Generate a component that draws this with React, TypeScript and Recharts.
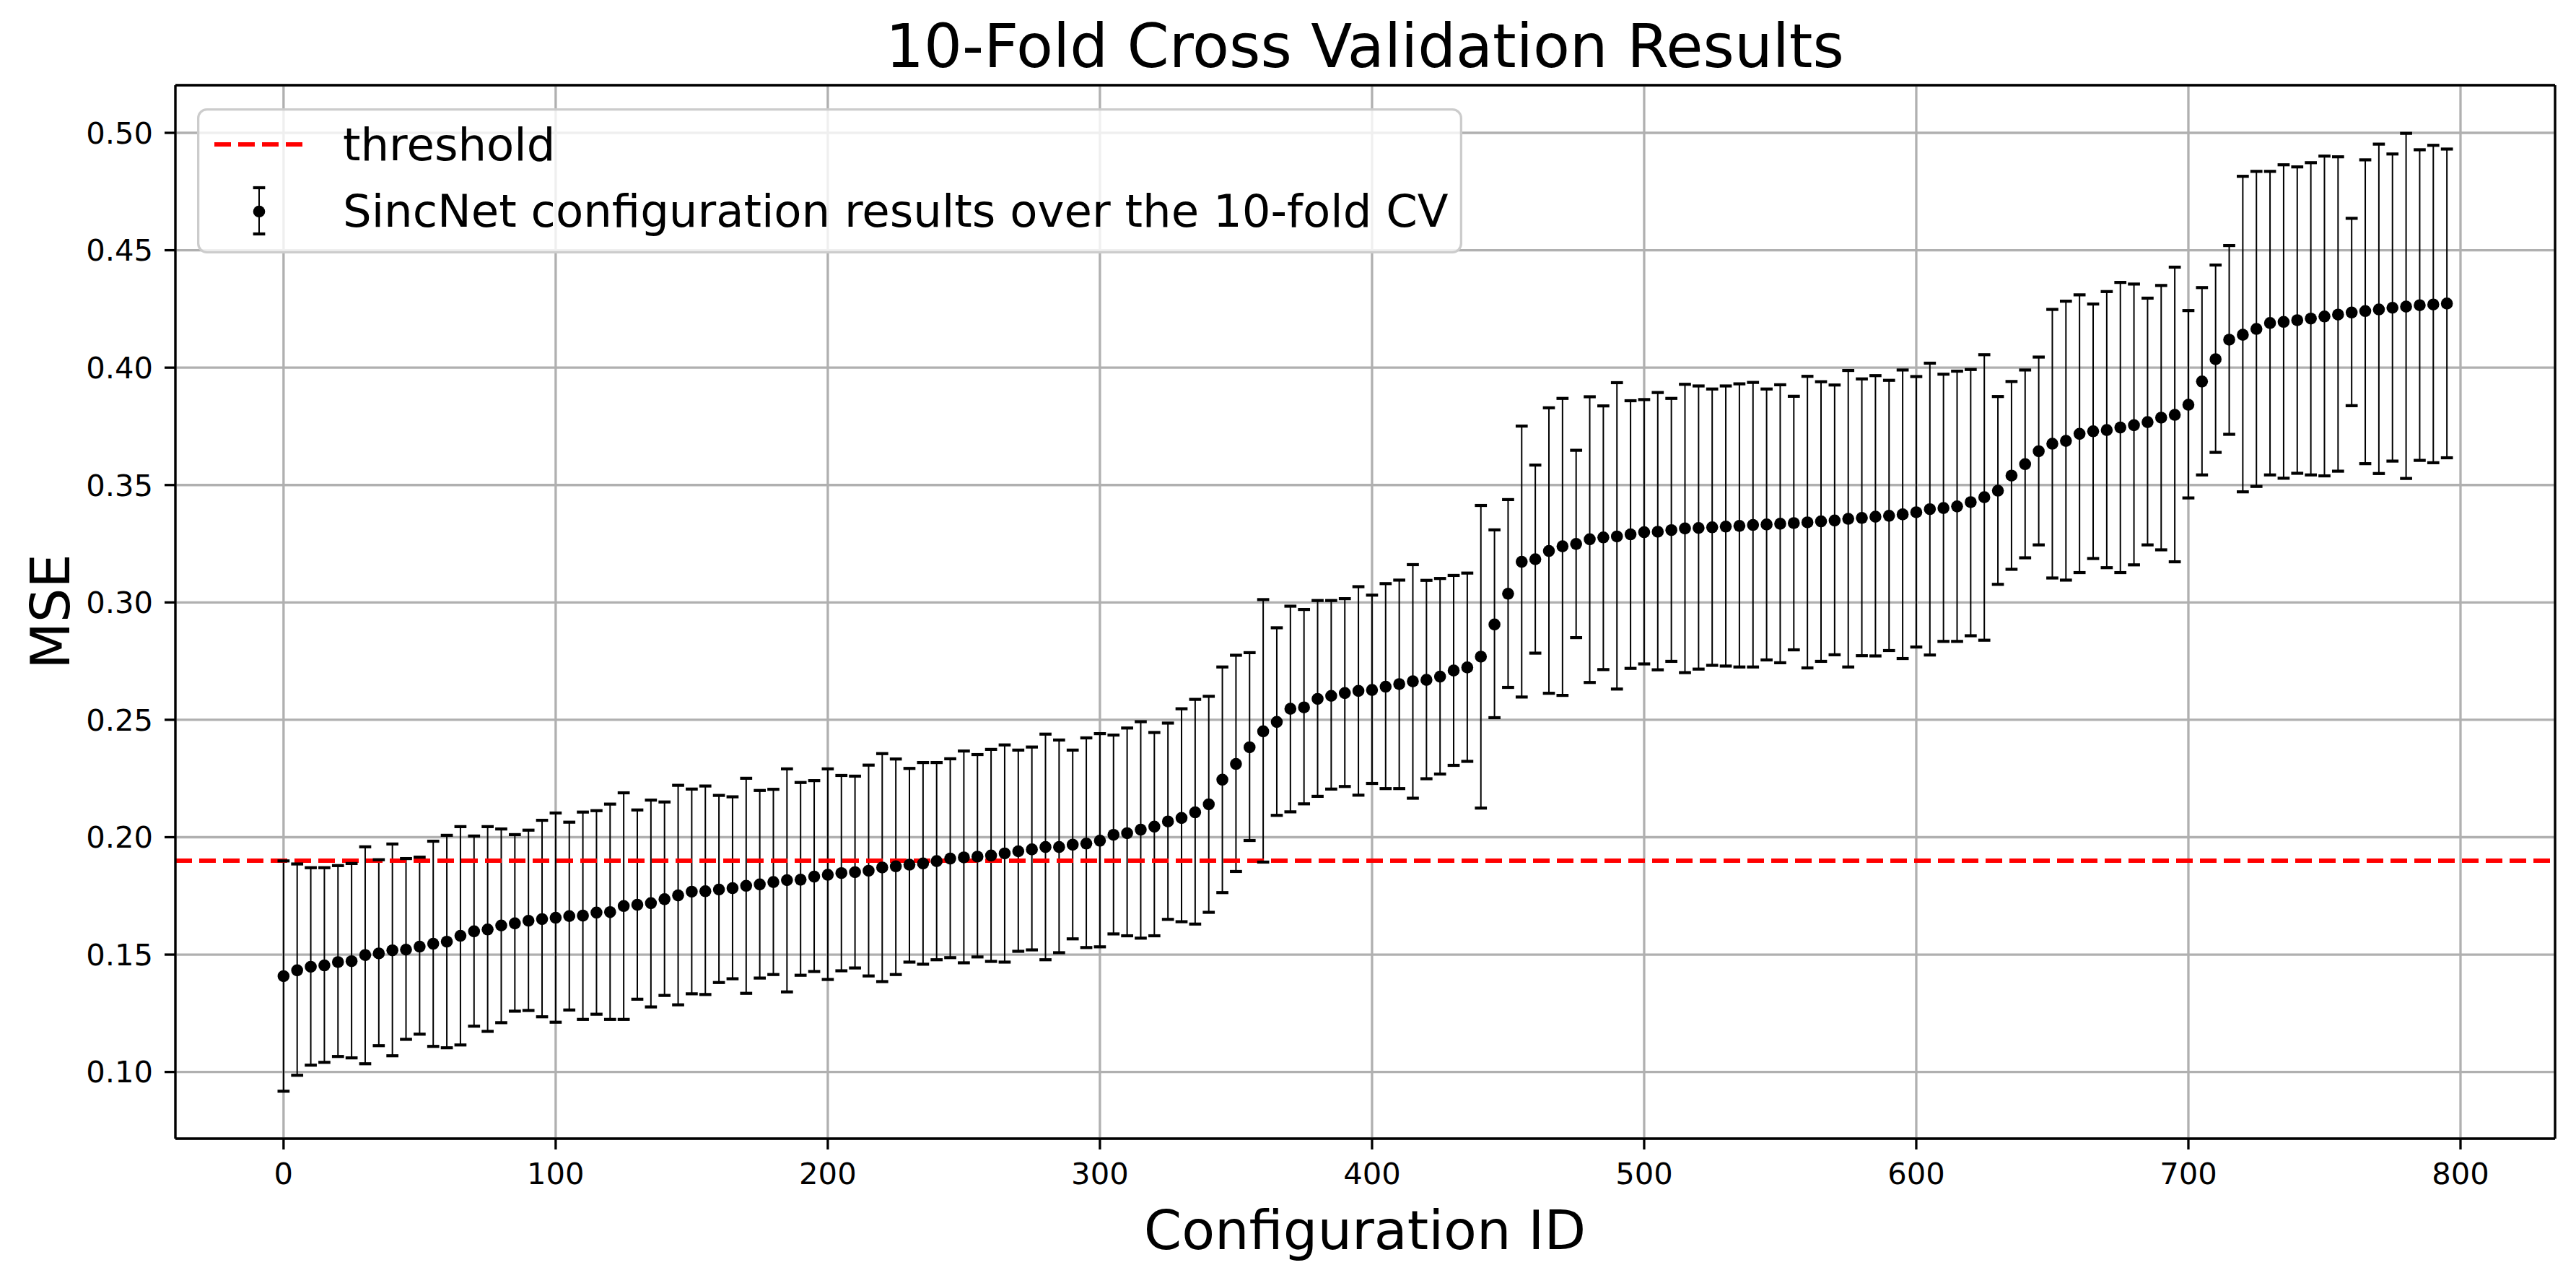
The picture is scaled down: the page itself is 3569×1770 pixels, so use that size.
import React from 'react';
import {
  ScatterChart,
  Scatter,
  XAxis,
  YAxis,
  CartesianGrid,
  ErrorBar,
  ReferenceLine,
  Legend,
} from 'recharts';

// Configuration IDs (x) — one point every 5 configs
const configIds = [
  0, 5, 10, 15, 20, 25, 30, 35, 40, 45, 50, 55, 60, 65, 70, 75, 80, 85, 90, 95,
  100, 105, 110, 115, 120, 125, 130, 135, 140, 145, 150, 155, 160, 165, 170, 175, 180, 185, 190, 195,
  200, 205, 210, 215, 220, 225, 230, 235, 240, 245, 250, 255, 260, 265, 270, 275, 280, 285, 290, 295,
  300, 305, 310, 315, 320, 325, 330, 335, 340, 345, 350, 355, 360, 365, 370, 375, 380, 385, 390, 395,
  400, 405, 410, 415, 420, 425, 430, 435, 440, 445, 450, 455, 460, 465, 470, 475, 480, 485, 490, 495,
  500, 505, 510, 515, 520, 525, 530, 535, 540, 545, 550, 555, 560, 565, 570, 575, 580, 585, 590, 595,
  600, 605, 610, 615, 620, 625, 630, 635, 640, 645, 650, 655, 660, 665, 670, 675, 680, 685, 690, 695,
  700, 705, 710, 715, 720, 725, 730, 735, 740, 745, 750, 755, 760, 765, 770, 775, 780, 785, 790, 795,
];

// mean MSE over the 10 folds
const meanMse = [
  0.1408, 0.1433, 0.1448, 0.1454, 0.1468, 0.1472, 0.1498, 0.1505, 0.1518, 0.1521, 0.1534, 0.1546, 0.1555, 0.158, 0.1599, 0.1607, 0.1624, 0.1633, 0.1644, 0.1651,
  0.1657, 0.1664, 0.1666, 0.1679, 0.1681, 0.1707, 0.1712, 0.1719, 0.1736, 0.1752, 0.1768, 0.177, 0.1777, 0.1783, 0.1793, 0.1799, 0.1809, 0.1817, 0.1819, 0.1832,
  0.184, 0.1847, 0.1851, 0.1857, 0.1871, 0.1876, 0.1883, 0.1888, 0.1898, 0.1909, 0.1914, 0.1917, 0.1922, 0.1931, 0.194, 0.1948, 0.1958, 0.1958, 0.1968, 0.1973,
  0.1985, 0.201, 0.2017, 0.2032, 0.2045, 0.2067, 0.2082, 0.2106, 0.214, 0.2245, 0.2312, 0.2383, 0.2451, 0.2491, 0.2547, 0.2553, 0.2589, 0.2602, 0.2614, 0.2623,
  0.2627, 0.2641, 0.2652, 0.2664, 0.267, 0.2684, 0.271, 0.2723, 0.2769, 0.2906, 0.3037, 0.3173, 0.3184, 0.3219, 0.3239, 0.3249, 0.3269, 0.3277, 0.3281, 0.329,
  0.3299, 0.3301, 0.3308, 0.3315, 0.3317, 0.332, 0.3323, 0.3326, 0.333, 0.3332, 0.3335, 0.3338, 0.3341, 0.3345, 0.3349, 0.3356, 0.336, 0.3365, 0.3369, 0.3375,
  0.3384, 0.3397, 0.3402, 0.3409, 0.3427, 0.3448, 0.3476, 0.354, 0.3589, 0.3644, 0.3676, 0.3688, 0.3718, 0.3729, 0.3734, 0.3745, 0.3755, 0.3768, 0.3787, 0.3799,
  0.3842, 0.3941, 0.4036, 0.4119, 0.414, 0.4165, 0.419, 0.4195, 0.4202, 0.4209, 0.4218, 0.4226, 0.4235, 0.4241, 0.4248, 0.4255, 0.426, 0.4266, 0.4269, 0.4273,
];

// top of each error bar
const upperMse = [
  0.1899, 0.1886, 0.187, 0.187, 0.1879, 0.1888, 0.1959, 0.1904, 0.1971, 0.1909, 0.1915, 0.1983, 0.2008, 0.2045, 0.2005, 0.2045, 0.2035, 0.2011, 0.203, 0.2072,
  0.2103, 0.2064, 0.2107, 0.2113, 0.2141, 0.2189, 0.2116, 0.2158, 0.215, 0.2221, 0.2205, 0.2218, 0.2178, 0.2172, 0.2251, 0.2199, 0.2204, 0.2291, 0.2233, 0.2241,
  0.2291, 0.2263, 0.226, 0.2307, 0.2356, 0.2333, 0.2293, 0.2318, 0.2318, 0.2334, 0.2367, 0.2352, 0.2374, 0.2393, 0.2371, 0.2384, 0.2439, 0.2414, 0.2371, 0.2423,
  0.2441, 0.2435, 0.2465, 0.2492, 0.2446, 0.2486, 0.2547, 0.2587, 0.26, 0.2725, 0.2775, 0.2786, 0.3012, 0.2892, 0.2984, 0.297, 0.3008, 0.3008, 0.3016, 0.3067,
  0.3031, 0.308, 0.3095, 0.3161, 0.3094, 0.3102, 0.3115, 0.3125, 0.3413, 0.3309, 0.3438, 0.3751, 0.3585, 0.3829, 0.3869, 0.3648, 0.3876, 0.3837, 0.3936, 0.3859,
  0.3864, 0.3894, 0.3869, 0.3929, 0.3922, 0.3909, 0.3922, 0.3931, 0.3937, 0.3909, 0.3927, 0.3878, 0.3963, 0.394, 0.3926, 0.3988, 0.3952, 0.3966, 0.3946, 0.399,
  0.3962, 0.4019, 0.3972, 0.3985, 0.3992, 0.4055, 0.3877, 0.3941, 0.399, 0.4045, 0.4248, 0.4283, 0.431, 0.4271, 0.4324, 0.4363, 0.4356, 0.4296, 0.435, 0.4428,
  0.4243, 0.4341, 0.4437, 0.452, 0.4815, 0.4836, 0.4836, 0.4864, 0.4855, 0.4873, 0.4901, 0.4898, 0.4636, 0.4885, 0.4952, 0.491, 0.4998, 0.4928, 0.4947, 0.4931,
];

// bottom of each error bar
const lowerMse = [
  0.0918, 0.0986, 0.1029, 0.1041, 0.1066, 0.106, 0.1035, 0.1112, 0.1069, 0.1139, 0.1161, 0.1109, 0.1103, 0.1115, 0.1195, 0.1173, 0.121, 0.1259, 0.1262, 0.1235,
  0.1212, 0.1264, 0.1224, 0.1246, 0.1224, 0.1224, 0.131, 0.1277, 0.1326, 0.1286, 0.1333, 0.133, 0.1381, 0.1397, 0.1335, 0.14, 0.1415, 0.1341, 0.1412, 0.1428,
  0.1394, 0.1431, 0.1443, 0.1409, 0.1385, 0.1415, 0.1468, 0.1459, 0.1478, 0.1487, 0.1465, 0.149, 0.1471, 0.1468, 0.1514, 0.152, 0.1478, 0.1508, 0.1567, 0.153,
  0.1533, 0.1588, 0.158, 0.157, 0.158, 0.165, 0.164, 0.163, 0.168, 0.1764, 0.1854, 0.1986, 0.1894, 0.2093, 0.2108, 0.2142, 0.2174, 0.2205, 0.2216, 0.2179,
  0.2229, 0.2207, 0.2207, 0.2166, 0.2249, 0.2269, 0.2306, 0.2323, 0.2124, 0.2509, 0.2638, 0.2597, 0.2784, 0.2613, 0.2604, 0.285, 0.2659, 0.2714, 0.2631, 0.2719,
  0.2738, 0.2713, 0.2749, 0.2701, 0.2716, 0.2732, 0.2729, 0.2725, 0.2725, 0.2755, 0.2743, 0.2798, 0.2721, 0.2749, 0.2777, 0.2725, 0.2773, 0.2772, 0.2795, 0.2761,
  0.281, 0.2776, 0.2834, 0.2834, 0.2858, 0.2839, 0.3077, 0.3141, 0.319, 0.3245, 0.3104, 0.3095, 0.3127, 0.3187, 0.3148, 0.3127, 0.316, 0.3245, 0.3224, 0.3173,
  0.3445, 0.3543, 0.3639, 0.3716, 0.3471, 0.3494, 0.3543, 0.3529, 0.355, 0.3543, 0.3539, 0.3559, 0.3838, 0.3591, 0.3549, 0.3602, 0.3528, 0.3605, 0.3595, 0.3616,
];

const THRESHOLD = 0.19;
const xTicks = [0, 100, 200, 300, 400, 500, 600, 700, 800];
const yTicks = [0.1, 0.15, 0.2, 0.25, 0.3, 0.35, 0.4, 0.45, 0.5];
const legendLabels = ['threshold', 'SincNet configuration results over the 10-fold CV'];

const X_DOMAIN: [number, number] = [-39.75, 834.75];
const Y_DOMAIN: [number, number] = [0.0716, 0.5203];

const W = 3569;
const H = 1770;
const FONT = '"DejaVu Sans", Verdana, sans-serif';

const meanPoints = configIds.map((id, i) => ({
  x: id,
  y: meanMse[i],
  err: [meanMse[i] - lowerMse[i], upperMse[i] - meanMse[i]],
}));
const upperPoints = configIds.map((id, i) => ({ x: id, y: upperMse[i] }));
const lowerPoints = configIds.map((id, i) => ({ x: id, y: lowerMse[i] }));

const CAP_W = 16.7;
const CAP_T = 4.2;

const Cap = (props: any) => {
  const { cx, cy } = props;
  if (cx == null || cy == null) return null;
  return <rect x={cx - CAP_W / 2} y={cy - CAP_T / 2} width={CAP_W} height={CAP_T} fill="#000" />;
};

const Dot = (props: any) => {
  const { cx, cy } = props;
  if (cx == null || cy == null) return null;
  return <circle cx={cx} cy={cy} r={8.3} fill="#000" />;
};

const renderLegend = () => (
  <svg width={1753} height={201} style={{ display: 'block' }}>
    <rect x={1.65} y={1.65} width={1749.7} height={197.7} rx={12} ry={12}
      fill="#ffffff" fillOpacity={0.8} stroke="#cccccc" strokeWidth={3.3} />
    <line x1={24} x2={149} y1={50} y2={50} stroke="#ff0000" strokeWidth={6} strokeDasharray="23 10" />
    <text x={202} y={72} fontSize={62.5} fontFamily={FONT} fill="#000">{legendLabels[0]}</text>
    <line x1={86} x2={86} y1={110} y2={174} stroke="#000" strokeWidth={2} />
    <rect x={86 - CAP_W / 2} y={110 - CAP_T / 2} width={CAP_W} height={CAP_T} fill="#000" />
    <rect x={86 - CAP_W / 2} y={174 - CAP_T / 2} width={CAP_W} height={CAP_T} fill="#000" />
    <circle cx={86} cy={143} r={8.3} fill="#000" />
    <text x={202} y={164} fontSize={62.5} fontFamily={FONT} fill="#000">{legendLabels[1]}</text>
  </svg>
);

const tickStyle = { fontSize: 41.7, fontFamily: FONT, fill: '#000' };

export default function App() {
  return (
    <div style={{ position: 'absolute', left: 0, top: 0, width: W, height: H, background: '#fff' }}>
      <ScatterChart
        width={W}
        height={H}
        margin={{ top: 118, right: 29, bottom: 133, left: 40 }}
      >
        <CartesianGrid stroke="#b0b0b0" strokeWidth={3.3} />
        <XAxis
          type="number"
          dataKey="x"
          domain={X_DOMAIN}
          ticks={xTicks}
          allowDataOverflow
          height={60}
          tickSize={15}
          tickMargin={18}
          tick={tickStyle}
          axisLine={{ stroke: '#000', strokeWidth: 3.3 }}
          tickLine={{ stroke: '#000', strokeWidth: 3.3 }}
          interval={0}
        />
        <YAxis
          type="number"
          dataKey="y"
          domain={Y_DOMAIN}
          ticks={yTicks}
          allowDataOverflow
          width={203}
          tickSize={15}
          tickMargin={16}
          tick={tickStyle}
          tickFormatter={(v: number) => v.toFixed(2)}
          axisLine={{ stroke: '#000', strokeWidth: 3.3 }}
          tickLine={{ stroke: '#000', strokeWidth: 3.3 }}
          interval={0}
        />
        <Scatter data={lowerPoints} shape={Cap} isAnimationActive={false} legendType="none" />
        <Scatter data={upperPoints} shape={Cap} isAnimationActive={false} legendType="none" />
        <Scatter data={meanPoints} shape={Dot} isAnimationActive={false} legendType="none">
          <ErrorBar dataKey="err" direction="y" width={0} stroke="#000" strokeWidth={2} isAnimationActive={false} />
        </Scatter>
        <ReferenceLine y={THRESHOLD} stroke="#ff0000" strokeWidth={6} strokeDasharray="23 10" />
        <ReferenceLine y={Y_DOMAIN[1]} stroke="#000" strokeWidth={3.3} />
        <ReferenceLine x={X_DOMAIN[1]} stroke="#000" strokeWidth={3.3} />
        <Legend
          content={renderLegend}
          layout="horizontal"
          verticalAlign="middle"
          align="center"
          wrapperStyle={{ left: 273, top: 150, width: 1753, height: 201 }}
        />
      </ScatterChart>
      <svg
        width={W}
        height={H}
        style={{ position: 'absolute', left: 0, top: 0, pointerEvents: 'none' }}
      >
        <text x={1891} y={93} textAnchor="middle" fontSize={83.3} fontFamily={FONT} fill="#000">
          10-Fold Cross Validation Results
        </text>
        <text x={1891} y={1730} textAnchor="middle" fontSize={75} fontFamily={FONT} fill="#000">
          Configuration ID
        </text>
        <text
          x={0}
          y={0}
          transform="translate(96, 847) rotate(-90)"
          textAnchor="middle"
          fontSize={75}
          fontFamily={FONT}
          fill="#000"
        >
          MSE
        </text>
      </svg>
    </div>
  );
}
